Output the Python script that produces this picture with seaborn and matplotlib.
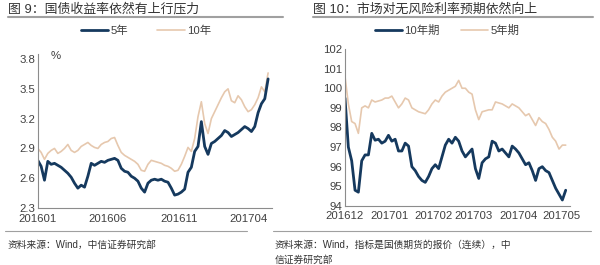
import numpy as np
import pandas as pd
import matplotlib
matplotlib.use("Agg")
import matplotlib.pyplot as plt
import matplotlib.dates as mdates
import seaborn as sns
from matplotlib.lines import Line2D

# ---------------- data: left panel (yield, %) ----------------
left_start, left_end = "2016-01-01", "2017-05-14"
y5 = [2.78, 2.72, 2.58, 2.77, 2.74, 2.75, 2.73, 2.71, 2.68, 2.65,
      2.61, 2.55, 2.50, 2.53, 2.51, 2.62, 2.75, 2.73, 2.75, 2.77,
      2.76, 2.78, 2.79, 2.80, 2.78, 2.70, 2.67, 2.66, 2.62, 2.60,
      2.57, 2.50, 2.46, 2.55, 2.58, 2.59, 2.58, 2.59, 2.57, 2.56,
      2.50, 2.43, 2.44, 2.46, 2.49, 2.66, 2.71, 2.87, 2.92, 3.17,
      2.92, 2.84, 2.95, 2.97, 3.00, 3.03, 3.08, 3.06, 3.02, 3.04,
      3.06, 3.09, 3.12, 3.10, 3.07, 3.12, 3.26, 3.35, 3.40, 3.60]
y10 = [2.90, 2.86, 2.79, 2.85, 2.88, 2.90, 2.85, 2.87, 2.90, 2.94,
       2.88, 2.86, 2.88, 2.92, 2.94, 2.96, 2.93, 2.91, 2.90, 2.94,
       2.96, 2.97, 3.00, 3.01, 2.93, 2.86, 2.83, 2.81, 2.79, 2.77,
       2.74, 2.68, 2.67, 2.74, 2.78, 2.77, 2.76, 2.75, 2.73, 2.72,
       2.70, 2.67, 2.68, 2.74, 2.82, 2.91, 2.87, 3.00, 3.22, 3.37,
       3.15, 3.05, 3.20, 3.27, 3.34, 3.41, 3.47, 3.50, 3.38, 3.36,
       3.43, 3.39, 3.32, 3.27, 3.29, 3.34, 3.41, 3.52, 3.47, 3.66]
left_ticks = ["2016-01-01", "2016-06-01", "2016-11-01", "2017-04-01"]
left_yticks = [2.3, 2.6, 2.9, 3.2, 3.5, 3.8]

# ---------------- data: right panel (futures price) ----------------
right_start, right_end = "2016-12-01", "2017-05-04"
f10 = [99.5, 97.0, 96.3, 94.8, 94.7, 96.3, 96.6, 96.6, 97.7, 97.35,
       97.4, 97.2, 97.3, 97.6, 97.3, 97.4, 96.8, 96.8, 97.2, 97.05,
       96.0, 95.8, 95.5, 95.3, 95.2, 95.5, 95.9, 96.1, 95.9, 96.5,
       97.1, 97.4, 97.2, 97.5, 97.3, 96.8, 96.5, 96.7, 96.9, 95.9,
       95.4, 96.2, 96.4, 96.5, 97.3, 97.2, 96.8, 96.9, 96.7, 96.5,
       97.05, 96.9, 96.7, 96.4, 96.1, 96.2, 95.8, 95.3, 95.9, 96.0,
       95.8, 95.7, 95.3, 94.9, 94.6, 94.3, 94.8]
f5 = [100.6, 99.2, 98.3, 98.2, 97.7, 99.0, 99.1, 99.0, 99.4, 99.3,
      99.35, 99.4, 99.5, 99.5, 99.6, 99.3, 99.0, 99.2, 99.5, 99.4,
      99.0, 98.9, 98.8, 98.75, 98.7, 98.9, 99.2, 99.4, 99.3, 99.6,
      99.8, 99.9, 100.0, 100.1, 100.4, 100.0, 100.0, 99.8, 99.7, 98.9,
      98.4, 98.8, 98.85, 98.9, 98.9, 99.3, 99.25, 99.2, 99.1, 99.0,
      99.2, 99.1, 99.0, 98.8, 98.6, 98.7, 98.4, 98.1, 98.5, 98.3,
      98.2, 97.9, 97.5, 97.3, 96.9, 97.1, 97.1]
right_ticks = ["2016-12-01", "2017-01-01", "2017-02-01", "2017-03-01",
               "2017-04-01", "2017-05-01"]
right_yticks = [94, 95, 96, 97, 98, 99, 100, 101, 102]

NAVY = "#15395e"
TAN = "#e6c8ae"
GREY = "#404040"

sns.set_theme(style="white")
plt.rcParams["font.family"] = ["Liberation Sans", "Noto Sans CJK SC", "DejaVu Sans"]

fig = plt.figure(figsize=(6.0, 2.65), dpi=100)

ld = pd.date_range(left_start, left_end, periods=len(y5))
left_df = pd.concat([
    pd.DataFrame({"date": ld, "value": y5, "series": "5年"}),
    pd.DataFrame({"date": ld, "value": y10, "series": "10年"}),
])
rd = pd.date_range(right_start, right_end, periods=len(f10))
right_df = pd.concat([
    pd.DataFrame({"date": rd, "value": f10, "series": "10年期"}),
    pd.DataFrame({"date": rd, "value": f5, "series": "5年期"}),
])

axL = fig.add_axes([0.063, 0.215, 0.39, 0.581])
axR = fig.add_axes([0.575, 0.223, 0.375, 0.592])

def draw(ax, df, first, second, xticks, yticks, ylim, xlim):
    sns.lineplot(data=df[df.series == second], x="date", y="value",
                 color=TAN, lw=1.2, ax=ax, legend=False)
    sns.lineplot(data=df[df.series == first], x="date", y="value",
                 color=NAVY, lw=2.0, ax=ax, legend=False)
    ax.set_xlim(pd.Timestamp(xlim[0]), pd.Timestamp(xlim[1]))
    ax.set_ylim(*ylim)
    ax.set_xticks([pd.Timestamp(t) for t in xticks])
    ax.xaxis.set_major_formatter(mdates.DateFormatter("%Y%m"))
    ax.set_yticks(yticks)
    ax.set_xlabel("")
    ax.set_ylabel("")
    for s in ["top", "right"]:
        ax.spines[s].set_visible(False)
    for s in ["left", "bottom"]:
        ax.spines[s].set_color("#8c8c8c")
        ax.spines[s].set_linewidth(0.8)
    ax.tick_params(axis="both", direction="in", length=3, width=0.8,
                   color="#8c8c8c", labelsize=8.2, labelcolor=GREY, pad=2)
    ax.tick_params(axis="x", pad=4)
    ax.set_facecolor("white")

draw(axL, left_df, "5年", "10年", left_ticks, left_yticks, (2.3, 3.85),
     ("2016-01-01", "2017-05-22"))
axL.yaxis.set_major_formatter(matplotlib.ticker.FormatStrFormatter("%.1f"))
axL.text(0.055, 0.985, "%", transform=axL.transAxes, fontsize=8.2,
         color=GREY, va="center", ha="left")

draw(axR, right_df, "10年期", "5年期", right_ticks, right_yticks, (94, 102),
     ("2016-12-01", "2017-05-07"))

hL = [Line2D([], [], color=NAVY, lw=2.0), Line2D([], [], color=TAN, lw=1.2)]
fig.legend(hL, ["5年", "10年"], loc="center", bbox_to_anchor=(0.243, 0.885),
           ncol=2, frameon=False, fontsize=8.2, handlelength=2.4,
           handletextpad=0.2, columnspacing=2.6, labelcolor=GREY)
fig.legend(hL, ["10年期", "5年期"], loc="center", bbox_to_anchor=(0.745, 0.885),
           ncol=2, frameon=False, fontsize=8.2, handlelength=2.4,
           handletextpad=0.2, columnspacing=1.8, labelcolor=GREY)

fig.text(0.013, 0.965, "图 9：国债收益率依然有上行压力", fontsize=9.3,
         color="#333333", va="center", ha="left")
fig.text(0.522, 0.965, "图 10：市场对无风险利率预期依然向上", fontsize=9.3,
         color="#333333", va="center", ha="left")
fig.add_artist(Line2D([0.013, 0.472], [0.937, 0.937], color="#a0a0a0", lw=1.5))
fig.add_artist(Line2D([0.522, 0.988], [0.937, 0.937], color="#a0a0a0", lw=1.5))

fig.add_artist(Line2D([0.008, 0.412], [0.128, 0.128], color="#a0a0a0", lw=0.8))
fig.add_artist(Line2D([0.455, 0.985], [0.128, 0.128], color="#a0a0a0", lw=0.8))
fig.text(0.012, 0.075, "资料来源：Wind，中信证券研究部", fontsize=7,
         color="#333333", va="center", ha="left")
fig.text(0.458, 0.075, "资料来源：Wind，指标是国债期货的报价（连续），中",
         fontsize=7, color="#333333", va="center", ha="left")
fig.text(0.458, 0.018, "信证券研究部", fontsize=7, color="#333333",
         va="center", ha="left")

fig.savefig("out.png", dpi=100, facecolor="white")
